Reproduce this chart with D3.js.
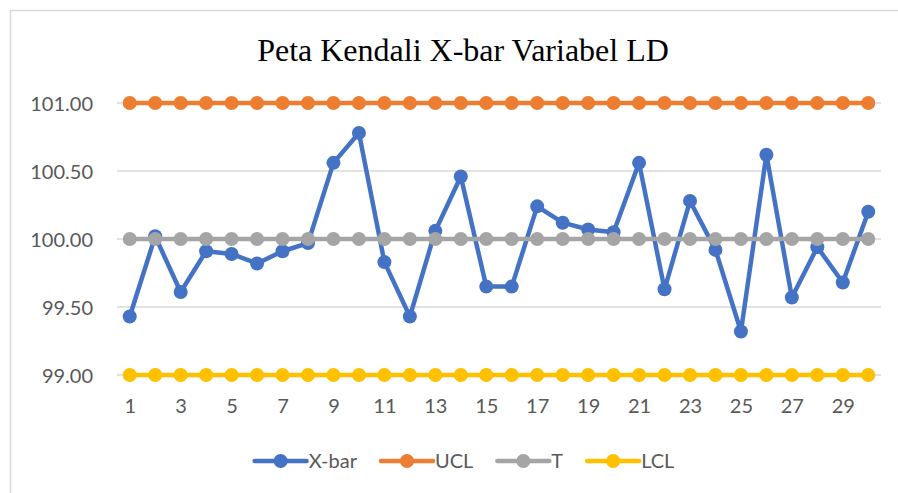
<!DOCTYPE html>
<html lang="en">
<head>
	<meta charset="UTF-8">
	<script src="https://d3js.org/d3.v7.min.js"></script>
	<title>Peta Kendali X-bar Variabel LD</title>
	<style>
		body {
			margin: 0;
			background: #fff;
		}
		svg {
			display: block;
		}
		.tick-label {
			font-family: Lato, "Open Sans", sans-serif;
			font-size: 20px;
			fill: #595959;
		}
	</style>
</head>
<body>
	<svg width="898" height="493"></svg>

	<script>
		// sample numbers (x categories)
		const samples = [1, 2, 3, 4, 5, 6, 7, 8, 9, 10, 11, 12, 13, 14, 15,
			16, 17, 18, 19, 20, 21, 22, 23, 24, 25, 26, 27, 28, 29, 30];

		const xbar = [99.43, 100.02, 99.61, 99.91, 99.89, 99.82, 99.91, 99.97, 100.56, 100.78,
			99.83, 99.43, 100.06, 100.46, 99.65, 99.65, 100.24, 100.12, 100.07, 100.05,
			100.56, 99.63, 100.28, 99.92, 99.32, 100.62, 99.57, 99.94, 99.68, 100.20];

		const ucl = [101.00, 101.00, 101.00, 101.00, 101.00, 101.00, 101.00, 101.00, 101.00, 101.00,
			101.00, 101.00, 101.00, 101.00, 101.00, 101.00, 101.00, 101.00, 101.00, 101.00,
			101.00, 101.00, 101.00, 101.00, 101.00, 101.00, 101.00, 101.00, 101.00, 101.00];

		const target = [100.00, 100.00, 100.00, 100.00, 100.00, 100.00, 100.00, 100.00, 100.00, 100.00,
			100.00, 100.00, 100.00, 100.00, 100.00, 100.00, 100.00, 100.00, 100.00, 100.00,
			100.00, 100.00, 100.00, 100.00, 100.00, 100.00, 100.00, 100.00, 100.00, 100.00];

		const lcl = [99.00, 99.00, 99.00, 99.00, 99.00, 99.00, 99.00, 99.00, 99.00, 99.00,
			99.00, 99.00, 99.00, 99.00, 99.00, 99.00, 99.00, 99.00, 99.00, 99.00,
			99.00, 99.00, 99.00, 99.00, 99.00, 99.00, 99.00, 99.00, 99.00, 99.00];

		const yTicks = [99.00, 99.50, 100.00, 100.50, 101.00];
		const xTicks = [1, 3, 5, 7, 9, 11, 13, 15, 17, 19, 21, 23, 25, 27, 29];

		const seriesNames = ['X-bar', 'UCL', 'T', 'LCL'];
		const seriesColors = ['#4472C4', '#ED7D31', '#A5A5A5', '#FFC000'];
		const seriesValues = [xbar, ucl, target, lcl];

		const svg = d3.select('svg');

		// chart frame
		svg.append('rect')
			.attr('x', 10.5).attr('y', 10.5)
			.attr('width', 1000).attr('height', 1000)
			.attr('fill', '#fff')
			.attr('stroke', '#d9d9d9')
			.attr('stroke-width', 1.5);

		svg.append('text')
			.attr('x', 463)
			.attr('y', 61)
			.attr('text-anchor', 'middle')
			.style('font-family', '"Liberation Serif", "Times New Roman", serif')
			.style('font-size', '32px')
			.style('fill', '#000')
			.text('Peta Kendali X-bar Variabel LD');

		const x = d3.scalePoint()
			.domain(samples)
			.range([117, 881])
			.padding(0.5);

		const y = d3.scaleLinear()
			.domain([99, 101])
			.range([375, 103]);

		// gridlines
		svg.append('g')
			.selectAll('line')
			.data(yTicks)
			.enter()
			.append('line')
			.attr('x1', 117)
			.attr('x2', 881)
			.attr('y1', d => y(d))
			.attr('y2', d => y(d))
			.attr('stroke', '#d9d9d9')
			.attr('stroke-width', 1.5);

		// y axis labels
		const yAxis = svg.append('g')
			.attr('transform', 'translate(102,0)')
			.call(d3.axisLeft(y).tickValues(yTicks).tickFormat(d3.format('.2f')).tickSize(0).tickPadding(9));
		yAxis.select('.domain').remove();
		yAxis.selectAll('text')
			.attr('class', 'tick-label')
			.attr('dy', '0.35em');

		// x axis labels
		const xAxis = svg.append('g')
			.attr('transform', 'translate(0,392)')
			.call(d3.axisBottom(x).tickValues(xTicks).tickSize(0).tickPadding(7));
		xAxis.select('.domain').remove();
		xAxis.selectAll('text')
			.attr('class', 'tick-label')
			.attr('dy', '0.71em');

		const line = d3.line()
			.x((d, i) => x(samples[i]))
			.y(d => y(d));

		seriesValues.forEach((vals, k) => {
			const g = svg.append('g');
			g.append('path')
				.attr('d', line(vals))
				.attr('fill', 'none')
				.attr('stroke', seriesColors[k])
				.attr('stroke-width', 4.5)
				.attr('stroke-linejoin', 'round');
			g.selectAll('circle')
				.data(vals)
				.enter()
				.append('circle')
				.attr('cx', (d, i) => x(samples[i]))
				.attr('cy', d => y(d))
				.attr('r', 7)
				.attr('fill', seriesColors[k]);
		});

		// legend
		const legend = svg.append('g').attr('transform', 'translate(0,461)');
		let lx = 0;
		seriesNames.forEach((name, k) => {
			const item = legend.append('g');
			item.append('line')
				.attr('x1', 2).attr('x2', 54)
				.attr('stroke', seriesColors[k])
				.attr('stroke-width', 4.5)
				.attr('stroke-linecap', 'round');
			item.append('circle')
				.attr('cx', 28).attr('r', 7)
				.attr('fill', seriesColors[k]);
			const t = item.append('text')
				.attr('class', 'tick-label')
				.attr('x', 56)
				.attr('dy', '0.35em')
				.text(name);
			item.attr('transform', `translate(${lx},0)`);
			lx += 56 + t.node().getComputedTextLength() + 22;
		});
		lx -= 22;
		legend.attr('transform', `translate(${463.5 - lx / 2},461)`);
	</script>
</body>
</html>
